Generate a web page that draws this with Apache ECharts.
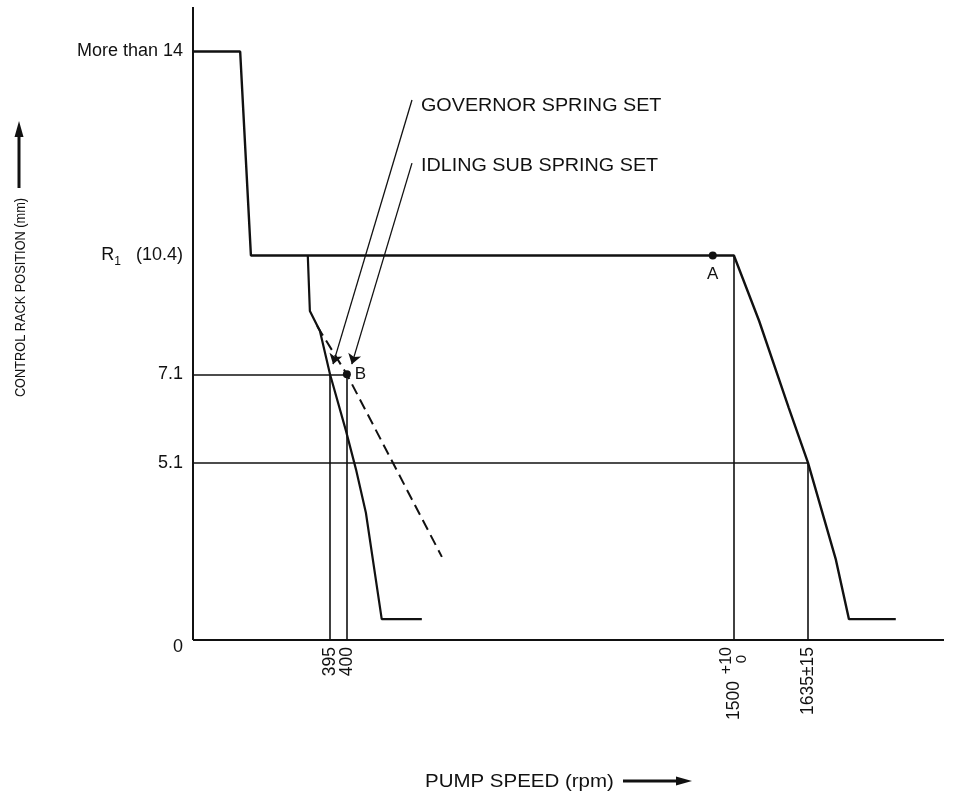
<!DOCTYPE html>
<html>
<head>
<meta charset="utf-8">
<script src="https://cdn.jsdelivr.net/npm/echarts@6/dist/echarts.min.js"></script>
<style>
  html, body { margin: 0; padding: 0; background: #fff; }
  #chart { width: 957px; height: 797px; }
</style>
</head>
<body>
<div id="chart"></div>
<script>
// Governor characteristic: pump speed (rpm) against control rack position (mm)

// Full-load / maximum-speed curve
const fullLoadRpm  = [0, 136, 167, 1500, 1546, 1600, 1635, 1716, 1754, 1890];
const fullLoadRack = [15.9, 15.9, 10.4, 10.4, 8.58, 6.34, 5.1, 2.31, 0.6, 0.6];

// Idling curve (governor spring)
const idleRpm  = [331, 337, 366, 395, 399.7, 426, 454, 499, 613];
const idleRack = [10.4, 8.86, 8.3, 7.1, 5.83, 4.9, 3.66, 0.6, 0.6];

// Idling sub spring characteristic (dashed)
const subSpringRpm  = [358, 400, 670];
const subSpringRack = [8.44, 7.1, 2.39];

// Set points
const pointNames = ['A', 'B'];
const pointRpm   = [1440, 400];
const pointRack  = [10.4, 7.1];

// Drop lines from the set points to the speed axis
const dropRpm  = [395, 400, 1500, 1635];
const dropRack = [7.1, 7.1, 10.4, 5.1];

// Level lines from the rack axis
const levelRack  = [7.1, 5.1];
const levelToRpm = [400, 1635];

// Axis ticks
const speedTicks      = [395, 400, 1500, 1635];
const speedTickLabels = ['395', '400', '1500', '1635±15'];
const speedTolUpper   = '+10';
const speedTolLower   = '0';
const rackTicks      = [0, 5.1, 7.1, 10.4, 15.9];
const rackTickLabels = ['0', '5.1', '7.1', 'R1 (10.4)', 'More than 14'];

// Callouts
const noteTexts    = ['GOVERNOR SPRING SET', 'IDLING SUB SPRING SET'];
const noteFromRpm  = [585, 585];
const noteFromRack = [14.59, 12.89];
const noteToRpm    = [395.9, 414];
const noteToRack   = [7.38, 7.38];

const SPEED_MAX = 2030;
const RACK_MAX = 17.1;

const FONT = 'Liberation Sans, Arial, Helvetica, sans-serif';
const INK = '#111';

const zip = (xs, ys) => xs.map((x, i) => [x, ys[i]]);
const findIdx = (arr, v) => arr.findIndex(t => Math.abs(t - v) < 1e-6);

// The diagram is not to scale: broken axes give each range its own share
const speedBreaks = [
  { start: 0,       end: 394.99,  gap: '18.24%' },
  { start: 400.01,  end: 1499.99, gap: '51.53%' },
  { start: 1500.01, end: 1634.99, gap: '9.85%' },
  { start: 1635.01, end: SPEED_MAX, gap: '18.11%' }
];
const rackBreaks = [
  { start: 0,     end: 5.09,  gap: '27.96%' },
  { start: 7.11,  end: 10.39, gap: '18.64%' },
  { start: 10.41, end: RACK_MAX, gap: '39.18%' }
];
const hiddenBreakArea = { show: false, itemStyle: { opacity: 0, borderWidth: 0 } };

// 395 and 400 sit very close together, so their labels go on two stacked axes
const labelAxisA = speedTicks.filter((v, i) => i % 2 === 1 || v === 1500);
const labelAxisB = speedTicks.filter((v, i) => i % 2 === 0);

const axisSegments = [
  { coords: [[0, 0], [SPEED_MAX, 0]] },
  { coords: [[0, 0], [0, RACK_MAX]] }
];
const guideSegments = dropRpm.map((r, i) => ({ coords: [[r, 0], [r, dropRack[i]]] }))
  .concat(levelRack.map((v, i) => ({ coords: [[0, v], [levelToRpm[i], v]] })));

function rackLabel(v) {
  const i = findIdx(rackTicks, v);
  if (i < 0) return '';
  const t = rackTickLabels[i];
  if (i === 0) return '{z|' + t + '}';
  if (t.startsWith('R1')) {
    return '{r|R}{s|1}{r|   ' + t.slice(3) + '}';
  }
  return t;
}

// Main speed labels; 1500 carries the lower tolerance as a subscript
function speedLabelA(v) {
  const i = findIdx(speedTicks, v);
  if (i < 0) return '';
  if (speedTicks[i] === 1500) return '{n|' + speedTickLabels[i] + '}{sub|' + speedTolLower + '}';
  return '{d|' + speedTickLabels[i] + '}';
}

// Second label row; 1500 carries the upper tolerance as a superscript
function speedLabelB(v) {
  const i = findIdx(speedTicks, v);
  if (i < 0) return '';
  if (speedTicks[i] === 1500) return '{pad| }{sup|' + speedTolUpper + '}';
  return '{d|' + speedTickLabels[i] + '}';
}

const commonAxis = {
  type: 'value',
  splitLine: { show: false },
  axisTick: { show: false },
  axisLine: { show: false }
};

const baseGraphic = [
  {
    type: 'text', x: 21, y: 297.5, rotation: Math.PI / 2, scaleX: 0.88,
    style: { text: 'CONTROL RACK POSITION (mm)', font: '14.5px ' + FONT, fill: INK,
             align: 'center', verticalAlign: 'middle' }
  },
  { type: 'line', shape: { x1: 19, y1: 188, x2: 19, y2: 134 }, style: { stroke: INK, lineWidth: 3 } },
  { type: 'polygon', shape: { points: [[19, 121], [14.5, 137], [23.5, 137]] }, style: { fill: INK } },
  {
    type: 'text', x: 425, y: 782, scaleX: 1.17,
    style: { text: 'PUMP SPEED (rpm)', font: '17.5px ' + FONT, fill: INK,
             align: 'left', verticalAlign: 'middle' }
  },
  { type: 'line', shape: { x1: 623, y1: 781, x2: 678, y2: 781 }, style: { stroke: INK, lineWidth: 3 } },
  { type: 'polygon', shape: { points: [[692, 781], [676, 776.5], [676, 785.5]] }, style: { fill: INK } }
];

const speedRich = {
  d: { fontSize: 17.5, fontFamily: FONT, color: INK, lineHeight: 14 },
  n: { fontSize: 17.5, fontFamily: FONT, color: INK, lineHeight: 30 },
  sub: { fontSize: 15, fontFamily: FONT, color: INK, lineHeight: 12,
         verticalAlign: 'bottom', width: 26, padding: [0, 8, 0, 0] },
  pad: { fontSize: 16, fontFamily: FONT, width: 39, lineHeight: 30 },
  sup: { fontSize: 16, fontFamily: FONT, color: INK, lineHeight: 12,
         verticalAlign: 'top', width: 34 }
};

const option = {
  animation: false,
  backgroundColor: '#fff',
  textStyle: { fontFamily: FONT, color: INK },
  grid: { left: 193, right: 13, top: 7, bottom: 157, outerBoundsMode: 'none' },
  xAxis: [
    Object.assign({}, commonAxis, {
      min: 0, max: SPEED_MAX,
      breaks: speedBreaks,
      breakArea: hiddenBreakArea,
      axisLabel: {
        customValues: labelAxisA,
        hideOverlap: false,
        rotate: 90,
        margin: 7,
        fontSize: 17.5,
        fontFamily: FONT,
        color: INK,
        formatter: speedLabelA,
        rich: speedRich
      }
    }),
    Object.assign({}, commonAxis, {
      position: 'bottom',
      min: 0, max: SPEED_MAX,
      breaks: speedBreaks,
      breakArea: hiddenBreakArea,
      axisLabel: {
        customValues: labelAxisB,
        hideOverlap: false,
        rotate: 90,
        margin: 7,
        fontSize: 17.5,
        fontFamily: FONT,
        color: INK,
        formatter: speedLabelB,
        rich: speedRich
      }
    })
  ],
  yAxis: Object.assign({}, commonAxis, {
    min: 0, max: RACK_MAX,
    breaks: rackBreaks,
    breakArea: hiddenBreakArea,
    axisLabel: {
      customValues: rackTicks,
      hideOverlap: false,
      margin: 10,
      fontSize: 18,
      fontFamily: FONT,
      color: INK,
      formatter: rackLabel,
      rich: {
        z: { fontSize: 18, fontFamily: FONT, color: INK, padding: [14, 0, 0, 0] },
        r: { fontSize: 18, fontFamily: FONT, color: INK, lineHeight: 24 },
        s: { fontSize: 12, fontFamily: FONT, color: INK, lineHeight: 12, verticalAlign: 'bottom' }
      }
    }
  }),
  series: [
    {
      name: 'Axes',
      type: 'lines',
      coordinateSystem: 'cartesian2d',
      polyline: false,
      silent: true,
      lineStyle: { color: INK, width: 2, opacity: 1, curveness: 0 },
      data: axisSegments,
      z: 2
    },
    {
      name: 'Guides',
      type: 'lines',
      coordinateSystem: 'cartesian2d',
      polyline: false,
      silent: true,
      lineStyle: { color: INK, width: 1.6, opacity: 1, curveness: 0 },
      data: guideSegments,
      z: 2
    },
    {
      name: 'Full load',
      type: 'line',
      data: zip(fullLoadRpm, fullLoadRack),
      showSymbol: false,
      symbol: 'none',
      lineStyle: { color: INK, width: 2.4 },
      z: 4
    },
    {
      name: 'Idling',
      type: 'line',
      data: zip(idleRpm, idleRack),
      showSymbol: false,
      symbol: 'none',
      lineStyle: { color: INK, width: 2.2 },
      z: 4
    },
    {
      name: 'Idling sub spring',
      type: 'line',
      data: zip(subSpringRpm, subSpringRack),
      showSymbol: false,
      symbol: 'none',
      lineStyle: { color: INK, width: 2, type: [11, 6] },
      z: 3
    },
    {
      name: 'Set points',
      type: 'scatter',
      data: pointRpm.map((r, i) => ({
        value: [r, pointRack[i]],
        name: pointNames[i],
        label: i === 0 ? { position: 'bottom', distance: 6 } : { position: 'right', distance: 4 }
      })),
      symbol: 'circle',
      symbolSize: 8,
      itemStyle: { color: INK, opacity: 1 },
      label: { show: true, formatter: '{b}', fontSize: 17, fontFamily: FONT, color: INK },
      z: 6
    },
    {
      name: 'Callouts',
      type: 'scatter',
      symbolSize: 0,
      silent: true,
      itemStyle: { opacity: 0 },
      data: zip(noteFromRpm, noteFromRack),
      markLine: {
        silent: true,
        animation: false,
        symbol: ['none', 'arrow'],
        symbolSize: 10,
        label: { show: false },
        lineStyle: { color: INK, width: 1.3, type: 'solid', opacity: 1 },
        data: noteTexts.map((t, i) => [
          { coord: [noteFromRpm[i], noteFromRack[i]] },
          { coord: [noteToRpm[i], noteToRack[i]] }
        ])
      },
      z: 5
    }
  ],
  graphic: baseGraphic
};

const chart = echarts.init(document.getElementById('chart'), null, { renderer: 'canvas' });
chart.setOption(option);

// Callout captions sit just right of where each leader starts
const calloutText = noteTexts.map((t, i) => {
  const p = chart.convertToPixel({ xAxisIndex: 0, yAxisIndex: 0 }, [noteFromRpm[i], noteFromRack[i]]);
  return {
    type: 'text', x: p[0] + 9, y: p[1] + (i === 0 ? 6 : 3), scaleX: 1.04,
    style: { text: t, font: '19px ' + FONT, fill: INK, align: 'left', verticalAlign: 'middle' }
  };
});
chart.setOption({ graphic: baseGraphic.concat(calloutText) });
</script>
</body>
</html>
